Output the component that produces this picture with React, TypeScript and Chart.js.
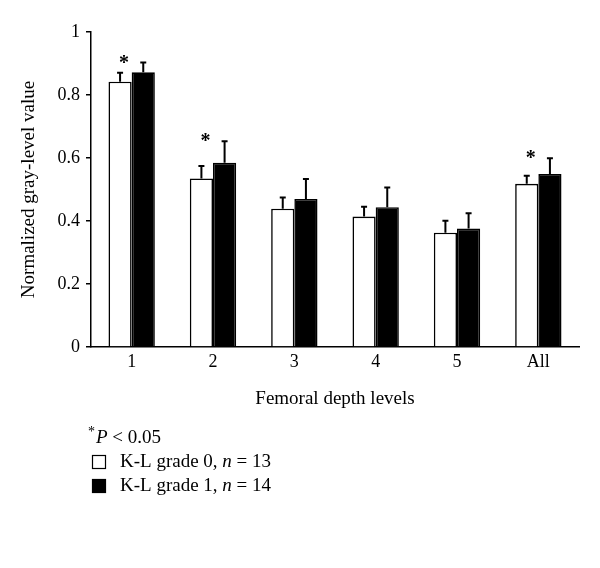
import React, { useEffect, useRef } from "react";
import { Chart, registerables } from "chart.js";

Chart.register(...registerables);

const categories = ["1", "2", "3", "4", "5", "All"];
const grade0Means = [0.842, 0.535, 0.439, 0.414, 0.363, 0.518];
const grade0Err = [0.029, 0.04, 0.036, 0.031, 0.038, 0.026];
const grade1Means = [0.872, 0.585, 0.47, 0.444, 0.376, 0.549];
const grade1Err = [0.031, 0.068, 0.063, 0.062, 0.049, 0.05];
const significant = [true, true, false, false, false, true];
const yTicks = [0, 0.2, 0.4, 0.6, 0.8, 1];
const grade0Label = ["K-L grade 0, ", "n", " = 13"];
const grade1Label = ["K-L grade 1, ", "n", " = 14"];

const SERIF = "'Liberation Serif', 'DejaVu Serif', serif";

const annotationPlugin = {
  id: "annotations",
  afterDatasetsDraw(chart: any) {
    const ctx = chart.ctx;
    const yScale = chart.scales.y;
    const errs = [grade0Err, grade1Err];
    const means = [grade0Means, grade1Means];
    ctx.save();
    ctx.strokeStyle = "#000";
    ctx.lineWidth = 2;
    const tops: number[] = categories.map(() => Infinity);
    [0, 1].forEach((di) => {
      const meta = chart.getDatasetMeta(di);
      meta.data.forEach((bar: any, i: number) => {
        const x = bar.x;
        const yTop = yScale.getPixelForValue(means[di][i] + errs[di][i]);
        const yBase = yScale.getPixelForValue(means[di][i]);
        tops[i] = Math.min(tops[i], yTop);
        ctx.beginPath();
        ctx.moveTo(x, yBase);
        ctx.lineTo(x, yTop);
        ctx.moveTo(x - 3, yTop);
        ctx.lineTo(x + 3, yTop);
        ctx.stroke();
      });
    });
    // significance asterisks
    const meta0 = chart.getDatasetMeta(0);
    ctx.fillStyle = "#000";
    ctx.font = `bold 20px ${SERIF}`;
    ctx.textAlign = "center";
    ctx.textBaseline = "alphabetic";
    significant.forEach((s, i) => {
      if (!s) return;
      const x = meta0.data[i].x + 4;
      const cy = tops[i] - 3;
      ctx.fillText("*", x, cy + 9);
    });

    // legend
    ctx.textAlign = "left";
    ctx.textBaseline = "middle";
    let x = 88;
    ctx.font = `14px ${SERIF}`;
    ctx.fillText("*", x, 432);
    x += ctx.measureText("*").width + 1;
    ctx.font = `italic 19px ${SERIF}`;
    ctx.fillText("P", x, 438);
    x += ctx.measureText("P").width;
    ctx.font = `19px ${SERIF}`;
    ctx.fillText(" < 0.05", x, 438);

    const rows = [
      { y: 462, fill: "#fff", label: grade0Label },
      { y: 486, fill: "#000", label: grade1Label },
    ];
    rows.forEach((r) => {
      ctx.fillStyle = r.fill;
      ctx.fillRect(92, r.y - 7, 14, 14);
      ctx.strokeStyle = "#000";
      ctx.lineWidth = 1.2;
      ctx.strokeRect(92.5, r.y - 6.5, 13, 13);
      ctx.fillStyle = "#000";
      let tx = 120;
      r.label.forEach((part, k) => {
        ctx.font = k === 1 ? `italic 19px ${SERIF}` : `19px ${SERIF}`;
        ctx.fillText(part, tx, r.y);
        tx += ctx.measureText(part).width;
      });
    });
    ctx.restore();
  },
};

export default function App() {
  const ref = useRef<HTMLCanvasElement>(null);
  useEffect(() => {
    if (!ref.current) return;
    const chart = new Chart(ref.current, {
      type: "bar",
      data: {
        labels: categories,
        datasets: [
          {
            label: "K-L grade 0, n = 13",
            data: grade0Means,
            backgroundColor: "#fff",
            borderColor: "#000",
            borderWidth: 1.6,
            categoryPercentage: 0.57,
            barPercentage: 1,
          },
          {
            label: "K-L grade 1, n = 14",
            data: grade1Means,
            backgroundColor: "#000",
            borderColor: "#000",
            borderWidth: 1.6,
            categoryPercentage: 0.57,
            barPercentage: 1,
          },
        ],
      },
      options: {
        responsive: false,
        animation: false,
        events: [],
        layout: { padding: { left: 0, right: 21, top: 32, bottom: 0 } },
        plugins: { legend: { display: false }, tooltip: { enabled: false } },
        scales: {
          x: {
            grid: { display: false, drawTicks: false },
            border: { display: true, color: "#000", width: 1.5 },
            ticks: { color: "#000", font: { family: SERIF, size: 18 }, padding: 4 },
            title: {
              display: true,
              text: "Femoral depth levels",
              color: "#000",
              font: { family: SERIF, size: 19 },
              padding: { top: 0, bottom: 158 },
            },
            afterFit: (s: any) => {
              s.height = 221;
            },
          },
          y: {
            min: 0,
            max: 1,
            afterBuildTicks: (s: any) => {
              s.ticks = yTicks.map((v) => ({ value: v }));
            },
            ticks: {
              color: "#000",
              font: { family: SERIF, size: 18 },
              padding: 6,
              callback: (v: any) => String(Math.round(Number(v) * 10) / 10),
            },
            grid: {
              drawOnChartArea: false,
              drawTicks: true,
              tickLength: 5,
              color: "#000",
              lineWidth: 1.5,
            },
            border: { display: true, color: "#000", width: 1.5 },
            title: {
              display: true,
              text: "Normalized gray-level value",
              color: "#000",
              font: { family: SERIF, size: 19 },
              padding: { top: 18, bottom: 0 },
            },
            afterFit: (s: any) => {
              s.width = 91;
            },
          },
        },
      },
      plugins: [annotationPlugin],
    });
    return () => chart.destroy();
  }, []);
  return (
    <div style={{ position: "absolute", left: 0, top: 0, width: 600, height: 568, background: "#fff" }}>
      <canvas ref={ref} width={600} height={568} />
    </div>
  );
}
